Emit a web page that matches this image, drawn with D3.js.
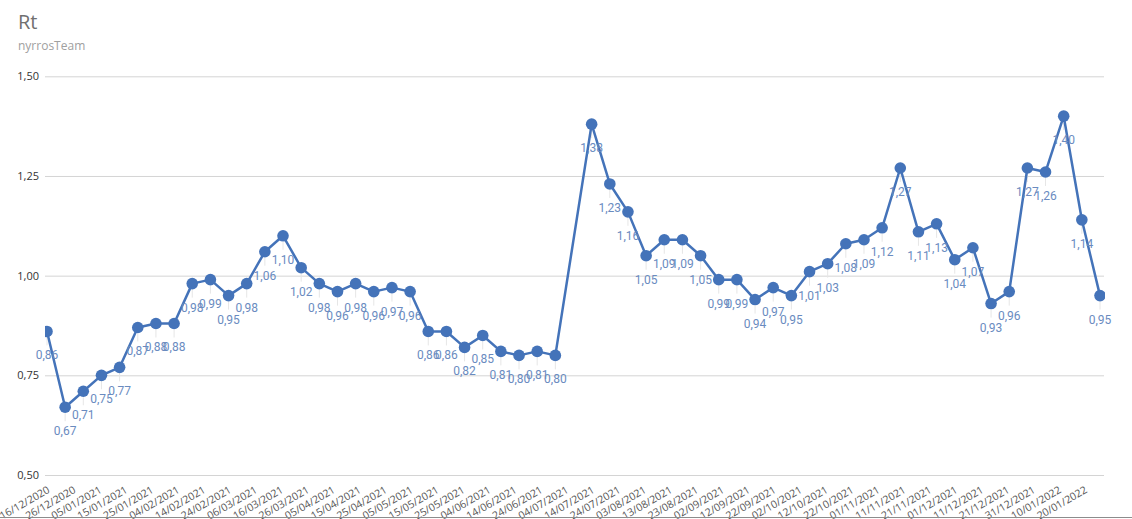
<!DOCTYPE html>
<html><head><meta charset="utf-8">
<script src="https://cdn.jsdelivr.net/npm/d3@7"></script>
<style>body{margin:0;background:#fff}svg{display:block}</style>
</head><body><svg id="c" width="1132" height="519"></svg>
<script>
const dates = ["2020-12-16","2020-12-23","2020-12-30","2021-01-06","2021-01-13","2021-01-20","2021-01-27","2021-02-03","2021-02-10","2021-02-17","2021-02-24","2021-03-03","2021-03-10","2021-03-17","2021-03-24","2021-03-31","2021-04-07","2021-04-14","2021-04-21","2021-04-28","2021-05-05","2021-05-12","2021-05-19","2021-05-26","2021-06-02","2021-06-09","2021-06-16","2021-06-23","2021-06-30","2021-07-14","2021-07-21","2021-07-28","2021-08-04","2021-08-11","2021-08-18","2021-08-25","2021-09-01","2021-09-08","2021-09-15","2021-09-22","2021-09-29","2021-10-06","2021-10-13","2021-10-20","2021-10-27","2021-11-03","2021-11-10","2021-11-17","2021-11-24","2021-12-01","2021-12-08","2021-12-15","2021-12-22","2021-12-29","2022-01-05","2022-01-12","2022-01-19","2022-01-26"];
const rt = [0.86,0.67,0.71,0.75,0.77,0.87,0.88,0.88,0.98,0.99,0.95,0.98,1.06,1.10,1.02,0.98,0.96,0.98,0.96,0.97,0.96,0.86,0.86,0.82,0.85,0.81,0.80,0.81,0.80,1.38,1.23,1.16,1.05,1.09,1.09,1.05,0.99,0.99,0.94,0.97,0.95,1.01,1.03,1.08,1.09,1.12,1.27,1.11,1.13,1.04,1.07,0.93,0.96,1.27,1.26,1.40,1.14,0.95];
const yTicks = [0.50,0.75,1.00,1.25,1.50];
const xTickStart = "2020-12-16", xTickEnd = "2022-01-20", xTickStepDays = 10;

const parse = d3.utcParse("%Y-%m-%d");
const data = dates.map((d,i)=>({date:parse(d), v:rt[i]}));
const fmtNum = v => d3.format(".2f")(v).replace(".", ",");
const fmtDate = d3.utcFormat("%d/%m/%Y");

const svg = d3.select("#c");
const x = d3.scaleUtc().domain([data[0].date, data[data.length-1].date]).range([47,1100]);
const y = d3.scaleLinear().domain([0.5,1.5]).range([475,76.3]);

svg.append("text").attr("x",18).attr("y",29).attr("font-family","'Open Sans', sans-serif")
  .attr("font-size",20).attr("fill","#707070").text("Rt");
svg.append("text").attr("x",18).attr("y",50).attr("font-family","'Open Sans', sans-serif")
  .attr("font-size",12).attr("fill","#a0a0a0").text("nyrrosTeam");

// gridlines + y labels
const yAxis = d3.axisLeft(y).tickValues(yTicks).tickSize(-(1104-45)).tickFormat(fmtNum).tickPadding(6);
const gy = svg.append("g").attr("transform","translate(45,0)").call(yAxis);
gy.select(".domain").remove();
gy.selectAll(".tick line").attr("stroke","#d4d4d4");
gy.selectAll(".tick text").attr("font-family","'Open Sans', sans-serif").attr("font-size",11).attr("fill","#333");

// x axis
const xTickVals = d3.utcDay.range(parse(xTickStart), d3.utcDay.offset(parse(xTickEnd),1), xTickStepDays);
const xAxis = d3.axisBottom(x).tickValues(xTickVals).tickFormat(fmtDate).tickSize(0);
const gx = svg.append("g").attr("transform","translate(0,492)").call(xAxis);
gx.select(".domain").remove();
gx.selectAll(".tick text").attr("font-family","'Open Sans', sans-serif").attr("font-size",10.5).attr("fill","#555")
  .attr("text-anchor","end").attr("dy",0).attr("y",0).attr("x",0)
  .attr("transform","translate(3,0) rotate(-30)");
svg.append("line").attr("x1",0).attr("x2",1132).attr("y1",517.5).attr("y2",517.5).attr("stroke","#8c8c8c");

// clip
svg.append("clipPath").attr("id","pc").append("rect").attr("x",45).attr("y",60).attr("width",1060).attr("height",420);
const plot = svg.append("g").attr("clip-path","url(#pc)");

// leader lines
plot.selectAll("line.lead").data(data).join("line").attr("class","lead")
  .attr("x1",d=>x(d.date)).attr("x2",d=>x(d.date))
  .attr("y1",d=>y(d.v)+6).attr("y2",d=>y(d.v)+14).attr("stroke","#e6e6e6").attr("stroke-width",1);

const color = "#4473b9";
plot.append("path").datum(data).attr("fill","none").attr("stroke",color).attr("stroke-width",2.5)
  .attr("stroke-linejoin","round")
  .attr("d", d3.line().x(d=>x(d.date)).y(d=>y(d.v)));
plot.selectAll("circle").data(data).join("circle")
  .attr("cx",d=>x(d.date)).attr("cy",d=>y(d.v)).attr("r",5.8).attr("fill",color);

svg.append("g").selectAll("text").data(data).join("text")
  .attr("x",d=>x(d.date)).attr("y",d=>y(d.v)+28)
  .attr("text-anchor","middle").attr("font-family","Roboto, sans-serif").attr("font-size",12)
  .attr("fill","#6a8bbf").text(d=>fmtNum(d.v));
</script></body></html>
